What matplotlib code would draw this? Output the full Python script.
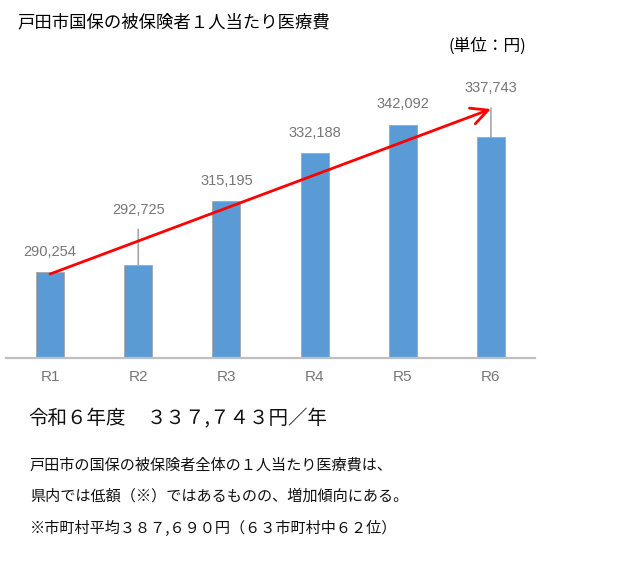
import matplotlib
matplotlib.use("Agg")
import matplotlib.pyplot as plt

plt.rcParams['font.family'] = ['Noto Sans CJK JP', 'DejaVu Sans']

# data
years = ["R1", "R2", "R3", "R4", "R5", "R6"]
cost = [290254, 292725, 315195, 332188, 342092, 337743]
label_offset = [20, 55, 20, 20, 21, 49]   # px above bar top
leader = [False, True, False, False, False, True]
trend_start = 289500
trend_end = 347800

title = "戸田市国保の被保険者１人当たり医療費"
unit = "(単位：円)"
head_year = "令和６年度"
head_value = "３３７,７４３円／年"
notes = [
    "戸田市の国保の被保険者全体の１人当たり医療費は、",
    "県内では低額（※）ではあるものの、増加傾向にある。",
    "※市町村平均３８７,６９０円（６３市町村中６２位）",
]

fig = plt.figure(figsize=(6.4, 5.86), dpi=100)
ax = fig.add_axes([6 / 640, 228.5 / 586, 529 / 640, 283 / 586])

x = range(len(years))
ax.bar(x, cost, width=0.317, color="#5b9bd5", edgecolor="#a5a5a5", linewidth=0.6, zorder=2)
ax.set_xlim(-0.5, 5.5)
ax.set_ylim(260000, 360000)

lab_style = dict(ha="center", va="center", fontsize=10.5, color="#767676", family="Liberation Sans")
for i, v in enumerate(cost):
    if leader[i]:
        ax.annotate(f"{v:,}", xy=(i, v), xytext=(0, label_offset[i]), textcoords="offset pixels",
                    arrowprops=dict(arrowstyle="-", color="#a6a6a6", lw=1.2, shrinkA=7, shrinkB=0,
                                    relpos=(0.5, 0)), **lab_style)
    else:
        ax.annotate(f"{v:,}", xy=(i, v), xytext=(0, label_offset[i]), textcoords="offset pixels",
                    **lab_style)

# trend arrow
ax.annotate("", xy=(5, trend_end), xytext=(0, trend_start),
            arrowprops=dict(arrowstyle="->, head_length=0.6, head_width=0.3", color="#ff0000",
                            lw=2, mutation_scale=20, shrinkA=0, shrinkB=0), zorder=5)

for s in ["top", "left", "right"]:
    ax.spines[s].set_visible(False)
ax.spines["bottom"].set_color("#bfbfbf")
ax.spines["bottom"].set_linewidth(1.6)
ax.set_yticks([])
ax.set_xticks(list(x))
ax.set_xticklabels(years, fontsize=11, color="#767676", family="Liberation Sans")
ax.tick_params(axis="x", length=0, pad=9)

fig.text(17 / 640, 1 - 22 / 586, title, fontsize=12.5, color="black", va="center", ha="left")
fig.text(526 / 640, 1 - 46 / 586, unit, fontsize=12, color="black", va="center", ha="right")
fig.text(28 / 640, 1 - 419 / 586, head_year, fontsize=14, color="#111111", va="center", ha="left")
fig.text(147 / 640, 1 - 419 / 586, head_value, fontsize=14, color="#111111", va="center", ha="left")
for k, line in enumerate(notes):
    fig.text(30 / 640, 1 - (465 + 31.5 * k) / 586, line, fontsize=10.9, color="#111111",
             va="center", ha="left")

fig.savefig("out.png", dpi=100)
